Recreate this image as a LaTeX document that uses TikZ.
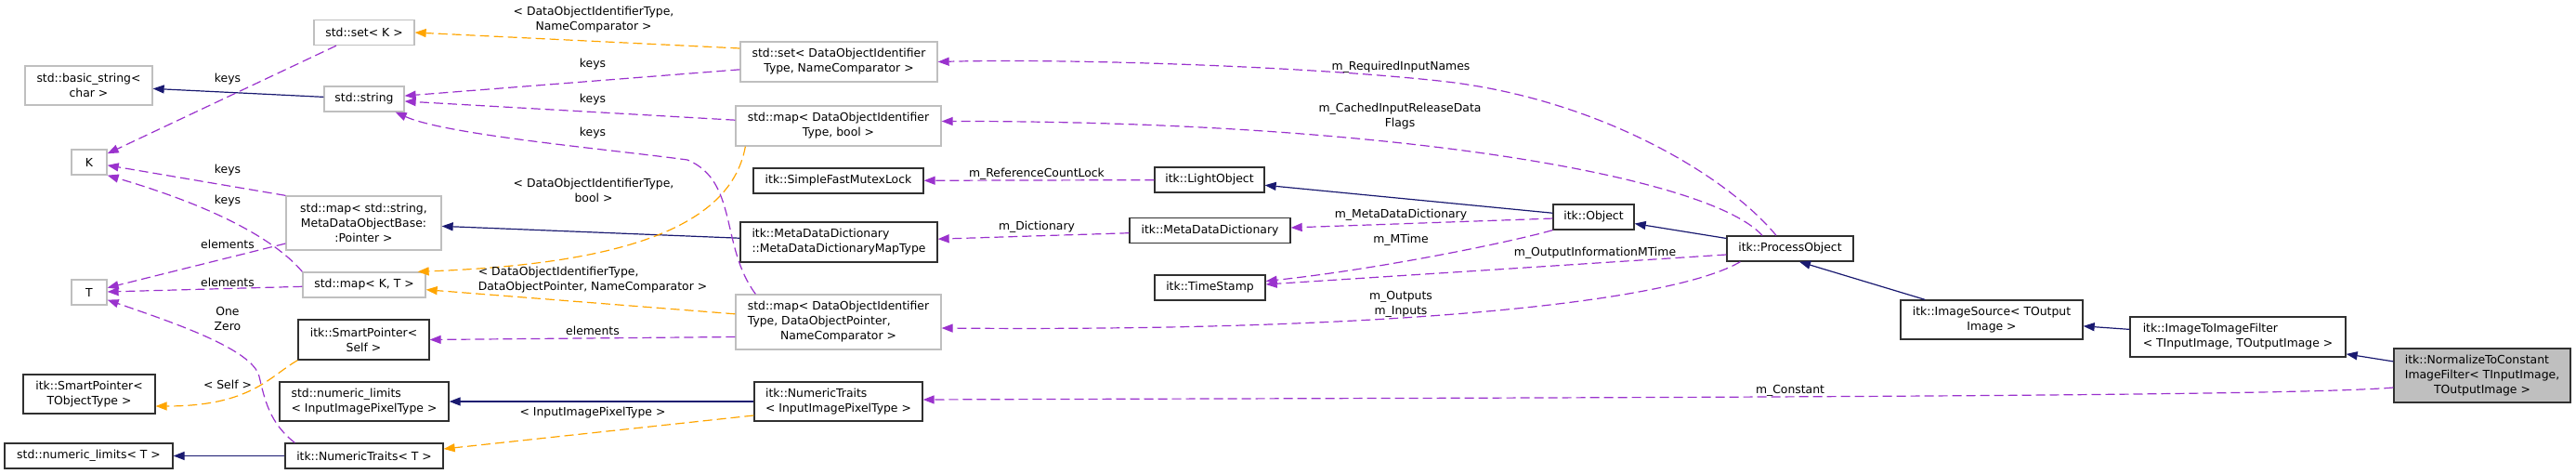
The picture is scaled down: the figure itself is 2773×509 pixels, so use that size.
\documentclass[tikz,border=0pt]{standalone}
\usepackage{fontspec}
\setmainfont{DejaVu Sans}
\usetikzlibrary{arrows.meta}
\definecolor{navy}{HTML}{191970}
\definecolor{usepurple}{HTML}{9A32CD}
\definecolor{tplorange}{HTML}{FFA500}
\definecolor{boxgray}{HTML}{BFBFBF}
\definecolor{boxdark}{HTML}{303030}
\begin{document}
\begin{tikzpicture}[x=1pt,y=-1pt, every node/.style={font=\fontsize{12.4}{16}\selectfont},
 cls/.style={draw=boxdark,line width=1.3pt,fill=white,inner sep=0pt,minimum height=27pt,align=center},
 ext/.style={cls,draw=boxgray},
 lbl/.style={inner sep=0pt,align=center},
 inh/.style={draw=navy,line width=1.2pt,-{Triangle[length=12pt,width=9pt]}},
 member/.style={draw=usepurple,line width=1.2pt,dash pattern=on 10pt off 5pt,-{Triangle[length=12pt,width=9pt]}},
 tpl/.style={draw=tplorange,line width=1.2pt,dash pattern=on 10pt off 5pt,-{Triangle[length=12pt,width=9pt]}}]
\useasboundingbox (0,0) rectangle (2773,509);
% one-line classes
\foreach \n/\x/\y/\w/\t in {setK/392/35/108/{std::set< K >},str/392/106.5/86/{std::string},
 K/96/174.5/38/K,T/96/314.5/38/T,mapKT/392/306.5/132/{std::map< K, T >}}
 \node[ext,minimum width=\w*1pt] (\n) at (\x,\y) {\t};
\foreach \n/\x/\y/\w/\t in {nlT/95.5/490.5/181/{std::numeric\_limits< T >},
 ntT/392/490.5/170/{itk::NumericTraits< T >},mutex/902.5/194.5/183/{itk::SimpleFastMutexLock},
 light/1302/193.5/118/{itk::LightObject},mdd/1302.5/248/173/{itk::MetaDataDictionary},
 ts/1302.5/309.5/119/{itk::TimeStamp},obj/1715.5/233.5/87/{itk::Object},
 po/1927/267.5/136/{itk::ProcessObject}}
 \node[cls,minimum width=\w*1pt] (\n) at (\x,\y) {\t};
% multi-line classes
\node[ext,minimum width=137pt,minimum height=42pt] (bstr) at (95.5,92) {std::basic\_string<\\char >};
\node[ext,minimum width=167pt,minimum height=58pt] (mapSP) at (391.5,240) {std::map< std::string,\\MetaDataObjectBase:\\:Pointer >};
\node[ext,minimum width=212pt,minimum height=43pt] (setDOI) at (903,66.5) {std::set< DataObjectIdentifier\\Type, NameComparator >};
\node[ext,minimum width=221pt,minimum height=43pt] (mapDOIb) at (902.5,135.5) {std::map< DataObjectIdentifier\\Type, bool >};
\node[ext,minimum width=221pt,minimum height=59pt] (mapDOP) at (902.5,346.5)
 {\begin{tabular}{@{}l@{}}std::map< DataObjectIdentifier\\Type, DataObjectPointer,\\\multicolumn{1}{@{}c@{}}{NameComparator >}\end{tabular}};
\node[cls,minimum width=142pt,minimum height=42pt] (spobj) at (96,424) {itk::SmartPointer<\\TObjectType >};
\node[cls,minimum width=141pt,minimum height=43pt] (spSelf) at (391.5,365.5) {itk::SmartPointer<\\Self >};
\node[cls,align=left,minimum width=182pt,minimum height=42pt] (nlIIPT) at (392,432) {std::numeric\_limits\\< InputImagePixelType >};
\node[cls,align=left,minimum width=212pt,minimum height=43pt] (mdmt) at (903,260.5) {itk::MetaDataDictionary\\::MetaDataDictionaryMapType};
\node[cls,align=left,minimum width=181pt,minimum height=42pt] (ntIIPT) at (902.5,432) {itk::NumericTraits\\< InputImagePixelType >};
\node[cls,minimum width=196pt,minimum height=42pt] (isrc) at (2144,344) {itk::ImageSource< TOutput\\Image >};
\node[cls,align=left,minimum width=232pt,minimum height=43pt] (i2i) at (2409,362.5) {itk::ImageToImageFilter\\< TInputImage, TOutputImage >};
\node[cls,fill=boxgray,minimum width=190pt,minimum height=58pt] (norm) at (2672,404)
 {\begin{tabular}{@{}l@{}}itk::NormalizeToConstant\\ImageFilter< TInputImage,\\\multicolumn{1}{@{}c@{}}{TOutputImage >}\end{tabular}};
% inheritance
\draw[inh] (str) -- (bstr);
\draw[inh] (mdmt) -- (mapSP);
\draw[inh] (obj) -- (light);
\draw[inh] (po) -- (obj);
\draw[inh] (isrc) -- ([xshift=10pt]po.south);
\draw[inh] (i2i) -- (isrc);
\draw[inh] (norm) -- (i2i);
\draw[inh] (ntIIPT) -- (nlIIPT);
\draw[inh] (ntT) -- (nlT);
% template instances
\draw[tpl] ([yshift=14.5pt]setDOI.west) -- (setK.east);
\draw[tpl] ([xshift=11pt]mapDOIb.south west) .. controls (785,255) and (640,285) .. ([xshift=-9pt]mapKT.north east);
\draw[tpl] (mapDOP) -- (mapKT);
\draw[tpl] (spSelf.south west) .. controls (290,405) and (270,437) .. ([yshift=-13pt]spobj.east);
\draw[tpl] ([yshift=-15pt]ntIIPT.west) -- ([yshift=7.5pt]ntT.east);
% members
\draw[member] (setK) -- (K);
\draw[member] (setDOI) -- (str);
\draw[member] (mapDOIb) -- (str);
\draw[member] ([xshift=22pt]mapDOP.north west) .. controls (775,265) and (795,195) .. (740,172)
 .. controls (650,160) and (480,145) .. ([xshift=-10pt]str.south east);
\draw[member] (mapSP.north west) -- (K);
\draw[member] (mapKT.north west) .. controls (300,262) and (240,225) .. (K.south east);
\draw[member] ([yshift=-22pt]mapSP.west) -- (T);
\draw[member] (mapKT) -- (T);
\draw[member] ([xshift=11pt]ntT.north west) .. controls (290,455) and (285,430) .. (279,405)
 .. controls (272,375) and (180,345) .. ([yshift=6pt]T.south east);
\draw[member] ([yshift=-16pt]mapDOP.west) -- (spSelf.east);
\draw[member] ([xshift=-15pt]po.north) .. controls (1860,190) and (1720,105) .. (1549,87)
 .. controls (1400,71) and (1150,63) .. (setDOI.east);
\draw[member] ([xshift=-30pt]po.north) .. controls (1840,190) and (1500,130) .. ([yshift=5pt]mapDOIb.east);
\draw[member] (light) -- (mutex);
\draw[member] (mdd) -- (mdmt);
\draw[member] (obj) -- (mdd);
\draw[member] (obj.south west) .. controls (1620,262) and (1480,290) .. ([yshift=7pt]ts.east);
\draw[member] ([yshift=-6.5pt]po.west) -- ([yshift=3.5pt]ts.east);
\draw[member] ([xshift=15pt]po.south west) .. controls (1800,325) and (1500,357) .. ([yshift=-6.5pt]mapDOP.east);
\draw[member] ([yshift=-13pt]norm.west) .. controls (2450,428) and (1500,428) .. ([yshift=2pt]ntIIPT.east);
% edge labels
\node[lbl] (ltplset) at (639,21) {< DataObjectIdentifierType,\\NameComparator >};
\node[lbl] (lkeys1) at (245,85) {keys};
\node[lbl] (lkeys2) at (638,69) {keys};
\node[lbl] (lkeys3) at (638,107) {keys};
\node[lbl] (lkeys4) at (638,143) {keys};
\node[lbl] (lkeys5) at (245,183) {keys};
\node[lbl] (lkeys6) at (245,216) {keys};
\node[lbl] (ltplbool) at (639,204.5) {< DataObjectIdentifierType,\\bool >};
\node[lbl] (lelem1) at (245,263) {elements};
\node[lbl] (lelem2) at (245,304) {elements};
\node[lbl] (lonezero) at (245,342.5) {One\\Zero};
\node[lbl,align=left] (ltplmap) at (638,301) {< DataObjectIdentifierType,\\DataObjectPointer, NameComparator >};
\node[lbl] (lelem3) at (638,356) {elements};
\node[lbl] (lself) at (245,414) {< Self >};
\node[lbl] (ltplpix) at (638,444) {< InputImagePixelType >};
\node[lbl] (lreflock) at (1116,187) {m\_ReferenceCountLock};
\node[lbl] (ldict) at (1116,244) {m\_Dictionary};
\node[lbl] (lreq) at (1508,72) {m\_RequiredInputNames};
\node[lbl] (lcached) at (1507,125) {m\_CachedInputReleaseData\\Flags};
\node[lbl] (lmdd) at (1508,231) {m\_MetaDataDictionary};
\node[lbl] (lmtime) at (1508,258) {m\_MTime};
\node[lbl] (loutmt) at (1717,272) {m\_OutputInformationMTime};
\node[lbl] (lio) at (1508,327) {m\_Outputs\\m\_Inputs};
\node[lbl] (lconst) at (1927,420) {m\_Constant};
\end{tikzpicture}
\end{document}
